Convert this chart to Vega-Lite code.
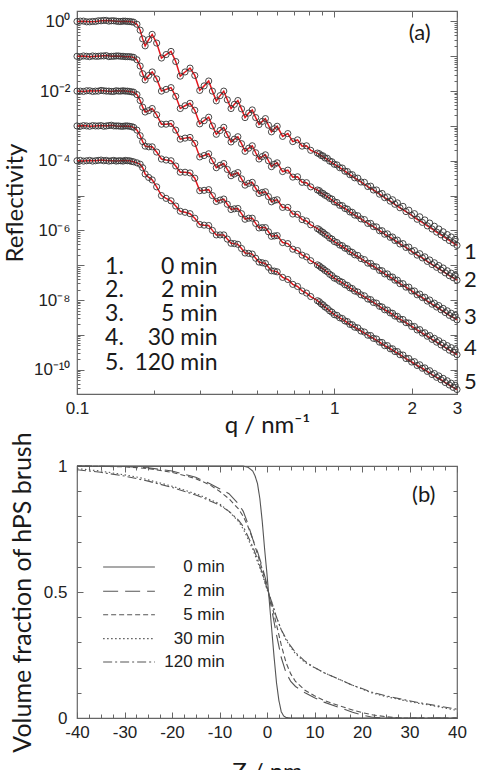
{
  "$schema": "https://vega.github.io/schema/vega-lite/v6.json",
  "padding": {"left": 2, "top": 9, "right": 0, "bottom": 0},
  "bounds": "flush",
  "spacing": 72,
  "config": {
    "view": {"stroke": "#666", "strokeWidth": 1.2},
    "axis": {"labelFlush": false, "labelOverlap": false, "domain": false, "grid": false, "tickColor": "#666", "tickWidth": 1, "labelFont": "Liberation Sans", "labelFontSize": 17, "labelColor": "#222", "titleFont": "Lato", "titleFontSize": 24, "titleFontWeight": "normal", "titleColor": "#1a1a1a"}
  },
  "datasets": {
    "refl": [
      {"q":0.100,"c1":0,"c2":-1.00,"c3":-2.00,"c4":-3.00,"c5":-4.00},
      {"q":0.106,"c1":0.01,"c2":-0.99,"c3":-2.01,"c4":-2.99,"c5":-4.01},
      {"q":0.112,"c1":-0.01,"c2":-1.01,"c3":-1.99,"c4":-3.01,"c5":-3.99},
      {"q":0.118,"c1":0,"c2":-1.00,"c3":-2.00,"c4":-3.00,"c5":-4.00},
      {"q":0.124,"c1":0.02,"c2":-0.99,"c3":-1.98,"c4":-2.99,"c5":-3.98},
      {"q":0.130,"c1":0.03,"c2":-0.98,"c3":-2.00,"c4":-3.00,"c5":-3.99},
      {"q":0.136,"c1":0.02,"c2":-1.00,"c3":-2.01,"c4":-2.98,"c5":-4.00},
      {"q":0.142,"c1":0.01,"c2":-0.99,"c3":-1.99,"c4":-3.00,"c5":-4.01},
      {"q":0.148,"c1":0,"c2":-1.00,"c3":-2.00,"c4":-3.01,"c5":-4.00},
      {"q":0.154,"c1":0.01,"c2":-1.01,"c3":-2.00,"c4":-3.00,"c5":-3.99},
      {"q":0.160,"c1":0,"c2":-1.01,"c3":-2.01,"c4":-3.01,"c5":-4.00},
      {"q":0.166,"c1":-0.02,"c2":-1.03,"c3":-2.03,"c4":-3.04,"c5":-4.03},
      {"q":0.171,"c1":-0.08,"c2":-1.10,"c3":-2.10,"c4":-3.12,"c5":-4.06},
      {"q":0.176,"c1":-0.25,"c2":-1.28,"c3":-2.27,"c4":-3.28,"c5":-4.10},
      {"q":0.180,"c1":-0.50,"c2":-1.50,"c3":-2.46,"c4":-3.45,"c5":-4.20},
      {"q":0.184,"c1":-0.70,"c2":-1.68,"c3":-2.60,"c4":-3.58,"c5":-4.38},
      {"q":0.190,"c1":-0.52,"c2":-1.55,"c3":-2.56,"c4":-3.60,"c5":-4.48},
      {"q":0.196,"c1":-0.37,"c2":-1.45,"c3":-2.50,"c4":-3.60,"c5":-4.55},
      {"q":0.204,"c1":-0.62,"c2":-1.65,"c3":-2.68,"c4":-3.75,"c5":-4.75},
      {"q":0.213,"c1":-1.05,"c2":-2.00,"c3":-2.95,"c4":-3.95,"c5":-5.00},
      {"q":0.222,"c1":-0.95,"c2":-1.95,"c3":-2.95,"c4":-3.98,"c5":-5.08},
      {"q":0.232,"c1":-0.86,"c2":-1.90,"c3":-2.93,"c4":-4.00,"c5":-5.15},
      {"q":0.242,"c1":-1.15,"c2":-2.15,"c3":-3.12,"c4":-4.15,"c5":-5.30},
      {"q":0.252,"c1":-1.57,"c2":-2.50,"c3":-3.38,"c4":-4.33,"c5":-5.45},
      {"q":0.263,"c1":-1.45,"c2":-2.42,"c3":-3.35,"c4":-4.33,"c5":-5.48},
      {"q":0.275,"c1":-1.34,"c2":-2.35,"c3":-3.33,"c4":-4.35,"c5":-5.52},
      {"q":0.287,"c1":-1.55,"c2":-2.55,"c3":-3.50,"c4":-4.50,"c5":-5.65},
      {"q":0.300,"c1":-1.98,"c2":-2.94,"c3":-3.89,"c4":-4.86,"c5":-5.83},
      {"q":0.312,"c1":-1.85,"c2":-2.85,"c3":-3.85,"c4":-4.85,"c5":-5.85},
      {"q":0.325,"c1":-1.71,"c2":-2.75,"c3":-3.80,"c4":-4.83,"c5":-5.86},
      {"q":0.336,"c1":-2.00,"c2":-3.00,"c3":-4.00,"c4":-5.00,"c5":-6.00},
      {"q":0.348,"c1":-2.28,"c2":-3.24,"c3":-4.20,"c4":-5.17,"c5":-6.13},
      {"q":0.360,"c1":-2.13,"c2":-3.13,"c3":-4.13,"c4":-5.13,"c5":-6.13},
      {"q":0.372,"c1":-2.00,"c2":-3.04,"c3":-4.08,"c4":-5.10,"c5":-6.13},
      {"q":0.384,"c1":-2.25,"c2":-3.25,"c3":-4.25,"c4":-5.25,"c5":-6.25},
      {"q":0.397,"c1":-2.50,"c2":-3.46,"c3":-4.43,"c4":-5.40,"c5":-6.37},
      {"q":0.409,"c1":-2.38,"c2":-3.38,"c3":-4.38,"c4":-5.38,"c5":-6.38},
      {"q":0.422,"c1":-2.27,"c2":-3.31,"c3":-4.34,"c4":-5.37,"c5":-6.40},
      {"q":0.436,"c1":-2.51,"c2":-3.51,"c3":-4.52,"c4":-5.52,"c5":-6.52},
      {"q":0.450,"c1":-2.76,"c2":-3.73,"c3":-4.70,"c4":-5.68,"c5":-6.65},
      {"q":0.465,"c1":-2.63,"c2":-3.64,"c3":-4.65,"c4":-5.65,"c5":-6.66},
      {"q":0.480,"c1":-2.54,"c2":-3.57,"c3":-4.62,"c4":-5.65,"c5":-6.68},
      {"q":0.495,"c1":-2.76,"c2":-3.77,"c3":-4.79,"c4":-5.80,"c5":-6.80},
      {"q":0.510,"c1":-2.96,"c2":-3.95,"c3":-4.94,"c4":-5.93,"c5":-6.91},
      {"q":0.525,"c1":-2.87,"c2":-3.88,"c3":-4.91,"c4":-5.92,"c5":-6.93},
      {"q":0.540,"c1":-2.79,"c2":-3.83,"c3":-4.89,"c4":-5.92,"c5":-6.95},
      {"q":0.555,"c1":-2.98,"c2":-4.00,"c3":-5.03,"c4":-6.04,"c5":-7.06},
      {"q":0.570,"c1":-3.17,"c2":-4.17,"c3":-5.18,"c4":-6.17,"c5":-7.16},
      {"q":0.585,"c1":-3.08,"c2":-4.10,"c3":-5.14,"c4":-6.16,"c5":-7.17},
      {"q":0.600,"c1":-3.01,"c2":-4.06,"c3":-5.12,"c4":-6.15,"c5":-7.19},
      {"q":0.630,"c1":-3.30,"c2":-4.31,"c3":-5.34,"c4":-6.35,"c5":-7.35},
      {"q":0.660,"c1":-3.22,"c2":-4.27,"c3":-5.34,"c4":-6.38,"c5":-7.41},
      {"q":0.690,"c1":-3.45,"c2":-4.47,"c3":-5.53,"c4":-6.54,"c5":-7.55},
      {"q":0.720,"c1":-3.40,"c2":-4.46,"c3":-5.54,"c4":-6.58,"c5":-7.61},
      {"q":0.750,"c1":-3.58,"c2":-4.62,"c3":-5.69,"c4":-6.71,"c5":-7.74},
      {"q":0.780,"c1":-3.57,"c2":-4.63,"c3":-5.73,"c4":-6.76,"c5":-7.80},
      {"q":0.810,"c1":-3.70,"c2":-4.75,"c3":-5.84,"c4":-6.87,"c5":-7.90},
      {"q":0.86,"c1":-3.78,"c2":-4.84,"c3":-5.95,"c4":-6.99,"c5":-8.02},
      {"q":0.89,"c1":-3.85,"c2":-4.92,"c3":-6.03,"c4":-7.07,"c5":-8.11},
      {"q":0.92,"c1":-3.92,"c2":-4.99,"c3":-6.11,"c4":-7.15,"c5":-8.20},
      {"q":0.96,"c1":-4.01,"c2":-5.08,"c3":-6.22,"c4":-7.26,"c5":-8.31},
      {"q":1.00,"c1":-4.10,"c2":-5.18,"c3":-6.32,"c4":-7.37,"c5":-8.42},
      {"q":1.05,"c1":-4.20,"c2":-5.28,"c3":-6.42,"c4":-7.46,"c5":-8.51},
      {"q":1.10,"c1":-4.30,"c2":-5.37,"c3":-6.51,"c4":-7.56,"c5":-8.60},
      {"q":1.15,"c1":-4.40,"c2":-5.47,"c3":-6.61,"c4":-7.65,"c5":-8.70},
      {"q":1.20,"c1":-4.49,"c2":-5.56,"c3":-6.70,"c4":-7.74,"c5":-8.78},
      {"q":1.27,"c1":-4.61,"c2":-5.67,"c3":-6.81,"c4":-7.85,"c5":-8.89},
      {"q":1.35,"c1":-4.74,"c2":-5.80,"c3":-6.94,"c4":-7.97,"c5":-9.01},
      {"q":1.42,"c1":-4.84,"c2":-5.89,"c3":-7.03,"c4":-8.07,"c5":-9.10},
      {"q":1.50,"c1":-4.96,"c2":-6.01,"c3":-7.15,"c4":-8.18,"c5":-9.21},
      {"q":1.57,"c1":-5.06,"c2":-6.11,"c3":-7.25,"c4":-8.28,"c5":-9.31},
      {"q":1.65,"c1":-5.16,"c2":-6.20,"c3":-7.34,"c4":-8.37,"c5":-9.40},
      {"q":1.72,"c1":-5.25,"c2":-6.29,"c3":-7.43,"c4":-8.46,"c5":-9.48},
      {"q":1.80,"c1":-5.35,"c2":-6.39,"c3":-7.53,"c4":-8.55,"c5":-9.57},
      {"q":1.90,"c1":-5.46,"c2":-6.49,"c3":-7.63,"c4":-8.65,"c5":-9.68},
      {"q":2.00,"c1":-5.57,"c2":-6.60,"c3":-7.74,"c4":-8.76,"c5":-9.78},
      {"q":2.10,"c1":-5.68,"c2":-6.71,"c3":-7.85,"c4":-8.86,"c5":-9.88},
      {"q":2.20,"c1":-5.77,"c2":-6.79,"c3":-7.93,"c4":-8.95,"c5":-9.96},
      {"q":2.30,"c1":-5.87,"c2":-6.89,"c3":-8.03,"c4":-9.04,"c5":-10.05},
      {"q":2.40,"c1":-5.96,"c2":-6.98,"c3":-8.12,"c4":-9.13,"c5":-10.14},
      {"q":2.50,"c1":-6.05,"c2":-7.06,"c3":-8.20,"c4":-9.21,"c5":-10.22},
      {"q":2.60,"c1":-6.13,"c2":-7.14,"c3":-8.28,"c4":-9.29,"c5":-10.29},
      {"q":2.70,"c1":-6.21,"c2":-7.22,"c3":-8.36,"c4":-9.36,"c5":-10.37},
      {"q":2.80,"c1":-6.29,"c2":-7.30,"c3":-8.44,"c4":-9.44,"c5":-10.44},
      {"q":2.90,"c1":-6.36,"c2":-7.36,"c3":-8.50,"c4":-9.50,"c5":-10.51},
      {"q":3.00,"c1":-6.43,"c2":-7.43,"c3":-8.57,"c4":-9.57,"c5":-10.57},
      {"e":1,"q":0.103,"c1":0.01,"c2":-1.01,"c3":-2.00,"c4":-3.01,"c5":-3.99},
      {"e":1,"q":0.109,"c1":-0.01,"c2":-1.00,"c3":-1.99,"c4":-3.00,"c5":-4.00},
      {"e":1,"q":0.115,"c1":0.00,"c2":-0.99,"c3":-2.01,"c4":-2.99,"c5":-4.01},
      {"e":1,"q":0.121,"c1":0.02,"c2":-1.00,"c3":-2.00,"c4":-3.00,"c5":-3.99},
      {"e":1,"q":0.127,"c1":0.03,"c2":-0.99,"c3":-1.99,"c4":-3.01,"c5":-4.00},
      {"e":1,"q":0.133,"c1":0.01,"c2":-1.01,"c3":-2.00,"c4":-2.99,"c5":-4.01},
      {"e":1,"q":0.139,"c1":0.02,"c2":-1.00,"c3":-2.01,"c4":-3.00,"c5":-3.99},
      {"e":1,"q":0.145,"c1":0.00,"c2":-0.99,"c3":-2.00,"c4":-3.00,"c5":-4.00},
      {"e":1,"q":0.151,"c1":0.01,"c2":-1.00,"c3":-1.99,"c4":-3.01,"c5":-4.01},
      {"e":1,"q":0.157,"c1":0.00,"c2":-1.01,"c3":-2.00,"c4":-3.00,"c5":-4.00},
      {"e":1,"q":0.163,"c1":-0.01,"c2":-1.02,"c3":-2.02,"c4":-3.02,"c5":-4.02},
      {"e":1,"q":0.875,"c1":-3.80,"c2":-4.86,"c3":-5.98,"c4":-7.02,"c5":-8.05},
      {"e":1,"q":0.905,"c1":-3.86,"c2":-4.94,"c3":-6.06,"c4":-7.10,"c5":-8.14},
      {"e":1,"q":0.94,"c1":-3.93,"c2":-5.02,"c3":-6.15,"c4":-7.19,"c5":-8.24},
      {"e":1,"q":0.98,"c1":-4.03,"c2":-5.10,"c3":-6.25,"c4":-7.30,"c5":-8.35},
      {"e":1,"q":1.025,"c1":-4.12,"c2":-5.20,"c3":-6.35,"c4":-7.40,"c5":-8.44},
      {"e":1,"q":1.075,"c1":-4.21,"c2":-5.29,"c3":-6.44,"c4":-7.49,"c5":-8.53},
      {"e":1,"q":1.125,"c1":-4.31,"c2":-5.39,"c3":-6.53,"c4":-7.58,"c5":-8.62},
      {"e":1,"q":1.175,"c1":-4.40,"c2":-5.48,"c3":-6.63,"c4":-7.67,"c5":-8.71},
      {"e":1,"q":1.235,"c1":-4.50,"c2":-5.58,"c3":-6.72,"c4":-7.77,"c5":-8.80},
      {"e":1,"q":1.31,"c1":-4.62,"c2":-5.69,"c3":-6.84,"c4":-7.88,"c5":-8.92},
      {"e":1,"q":1.385,"c1":-4.73,"c2":-5.80,"c3":-6.95,"c4":-7.99,"c5":-9.02},
      {"e":1,"q":1.46,"c1":-4.84,"c2":-5.90,"c3":-7.05,"c4":-8.09,"c5":-9.12},
      {"e":1,"q":1.535,"c1":-4.94,"c2":-6.01,"c3":-7.16,"c4":-8.20,"c5":-9.22},
      {"e":1,"q":1.61,"c1":-5.04,"c2":-6.10,"c3":-7.25,"c4":-8.29,"c5":-9.31},
      {"e":1,"q":1.685,"c1":-5.12,"c2":-6.19,"c3":-7.34,"c4":-8.38,"c5":-9.40},
      {"e":1,"q":1.76,"c1":-5.21,"c2":-6.28,"c3":-7.43,"c4":-8.47,"c5":-9.48},
      {"e":1,"q":1.85,"c1":-5.31,"c2":-6.38,"c3":-7.53,"c4":-8.56,"c5":-9.58},
      {"e":1,"q":1.95,"c1":-5.42,"c2":-6.48,"c3":-7.63,"c4":-8.66,"c5":-9.68},
      {"e":1,"q":2.05,"c1":-5.52,"c2":-6.58,"c3":-7.74,"c4":-8.76,"c5":-9.77},
      {"e":1,"q":2.15,"c1":-5.61,"c2":-6.67,"c3":-7.83,"c4":-8.85,"c5":-9.86},
      {"e":1,"q":2.25,"c1":-5.70,"c2":-6.76,"c3":-7.92,"c4":-8.94,"c5":-9.95},
      {"e":1,"q":2.35,"c1":-5.79,"c2":-6.85,"c3":-8.00,"c4":-9.02,"c5":-10.03},
      {"e":1,"q":2.45,"c1":-5.88,"c2":-6.93,"c3":-8.09,"c4":-9.10,"c5":-10.11},
      {"e":1,"q":2.55,"c1":-5.96,"c2":-7.01,"c3":-8.16,"c4":-9.17,"c5":-10.18},
      {"e":1,"q":2.65,"c1":-6.04,"c2":-7.08,"c3":-8.24,"c4":-9.24,"c5":-10.25},
      {"e":1,"q":2.75,"c1":-6.12,"c2":-7.16,"c3":-8.31,"c4":-9.31,"c5":-10.32},
      {"e":1,"q":2.85,"c1":-6.19,"c2":-7.23,"c3":-8.38,"c4":-9.37,"c5":-10.39},
      {"e":1,"q":2.95,"c1":-6.26,"c2":-7.29,"c3":-8.44,"c4":-9.43,"c5":-10.45}
    ],
    "prof": [
      {"t":"0 min","Z":-40,"phi":1},{"t":"0 min","Z":-10,"phi":1},{"t":"0 min","Z":-5,"phi":1},{"t":"0 min","Z":-4,"phi":0.995},{"t":"0 min","Z":-3,"phi":0.98},{"t":"0 min","Z":-2.5,"phi":0.96},{"t":"0 min","Z":-2,"phi":0.93},{"t":"0 min","Z":-1.5,"phi":0.87},{"t":"0 min","Z":-1,"phi":0.78},{"t":"0 min","Z":-0.5,"phi":0.67},{"t":"0 min","Z":0,"phi":0.57},{"t":"0 min","Z":0.5,"phi":0.46},{"t":"0 min","Z":1,"phi":0.35},{"t":"0 min","Z":1.5,"phi":0.24},{"t":"0 min","Z":2,"phi":0.14},{"t":"0 min","Z":2.5,"phi":0.07},{"t":"0 min","Z":3,"phi":0.025},{"t":"0 min","Z":3.5,"phi":0.008},{"t":"0 min","Z":4,"phi":0.002},{"t":"0 min","Z":5,"phi":0},{"t":"0 min","Z":40,"phi":0},
      {"t":"2 min","Z":-40,"phi":1},{"t":"2 min","Z":-30,"phi":0.998},{"t":"2 min","Z":-25,"phi":0.993},{"t":"2 min","Z":-20,"phi":0.98},{"t":"2 min","Z":-15,"phi":0.955},{"t":"2 min","Z":-12,"phi":0.93},{"t":"2 min","Z":-10,"phi":0.91},{"t":"2 min","Z":-8,"phi":0.89},{"t":"2 min","Z":-6,"phi":0.85},{"t":"2 min","Z":-5,"phi":0.82},{"t":"2 min","Z":-4,"phi":0.77},{"t":"2 min","Z":-3,"phi":0.71},{"t":"2 min","Z":-2,"phi":0.66},{"t":"2 min","Z":-1,"phi":0.6},{"t":"2 min","Z":0,"phi":0.53},{"t":"2 min","Z":1,"phi":0.43},{"t":"2 min","Z":2,"phi":0.33},{"t":"2 min","Z":3,"phi":0.24},{"t":"2 min","Z":4,"phi":0.18},{"t":"2 min","Z":5,"phi":0.145},{"t":"2 min","Z":6,"phi":0.125},{"t":"2 min","Z":8,"phi":0.1},{"t":"2 min","Z":10,"phi":0.08},{"t":"2 min","Z":12,"phi":0.063},{"t":"2 min","Z":15,"phi":0.043},{"t":"2 min","Z":18,"phi":0.023},{"t":"2 min","Z":20,"phi":0.012},{"t":"2 min","Z":22,"phi":0.004},{"t":"2 min","Z":24,"phi":0},{"t":"2 min","Z":40,"phi":0},
      {"t":"5 min","Z":-40,"phi":1},{"t":"5 min","Z":-30,"phi":0.997},{"t":"5 min","Z":-25,"phi":0.99},{"t":"5 min","Z":-20,"phi":0.975},{"t":"5 min","Z":-15,"phi":0.95},{"t":"5 min","Z":-12,"phi":0.925},{"t":"5 min","Z":-10,"phi":0.9},{"t":"5 min","Z":-8,"phi":0.87},{"t":"5 min","Z":-6,"phi":0.83},{"t":"5 min","Z":-5,"phi":0.8},{"t":"5 min","Z":-4,"phi":0.76},{"t":"5 min","Z":-3,"phi":0.71},{"t":"5 min","Z":-2,"phi":0.65},{"t":"5 min","Z":-1,"phi":0.59},{"t":"5 min","Z":0,"phi":0.52},{"t":"5 min","Z":1,"phi":0.45},{"t":"5 min","Z":2,"phi":0.37},{"t":"5 min","Z":3,"phi":0.29},{"t":"5 min","Z":4,"phi":0.22},{"t":"5 min","Z":5,"phi":0.175},{"t":"5 min","Z":6,"phi":0.145},{"t":"5 min","Z":8,"phi":0.11},{"t":"5 min","Z":10,"phi":0.088},{"t":"5 min","Z":12,"phi":0.07},{"t":"5 min","Z":15,"phi":0.05},{"t":"5 min","Z":18,"phi":0.032},{"t":"5 min","Z":20,"phi":0.022},{"t":"5 min","Z":22,"phi":0.013},{"t":"5 min","Z":25,"phi":0.005},{"t":"5 min","Z":28,"phi":0},{"t":"5 min","Z":40,"phi":0},
      {"t":"30 min","Z":-40,"phi":0.99},{"t":"30 min","Z":-35,"phi":0.98},{"t":"30 min","Z":-30,"phi":0.965},{"t":"30 min","Z":-27,"phi":0.955},{"t":"30 min","Z":-25,"phi":0.945},{"t":"30 min","Z":-20,"phi":0.92},{"t":"30 min","Z":-15,"phi":0.89},{"t":"30 min","Z":-13,"phi":0.875},{"t":"30 min","Z":-10,"phi":0.85},{"t":"30 min","Z":-8,"phi":0.82},{"t":"30 min","Z":-6,"phi":0.78},{"t":"30 min","Z":-5,"phi":0.75},{"t":"30 min","Z":-4,"phi":0.71},{"t":"30 min","Z":-3,"phi":0.67},{"t":"30 min","Z":-2,"phi":0.62},{"t":"30 min","Z":-1,"phi":0.57},{"t":"30 min","Z":0,"phi":0.51},{"t":"30 min","Z":1,"phi":0.46},{"t":"30 min","Z":2,"phi":0.4},{"t":"30 min","Z":3,"phi":0.35},{"t":"30 min","Z":4,"phi":0.31},{"t":"30 min","Z":5,"phi":0.28},{"t":"30 min","Z":6,"phi":0.255},{"t":"30 min","Z":8,"phi":0.22},{"t":"30 min","Z":10,"phi":0.2},{"t":"30 min","Z":12,"phi":0.18},{"t":"30 min","Z":15,"phi":0.155},{"t":"30 min","Z":18,"phi":0.13},{"t":"30 min","Z":20,"phi":0.115},{"t":"30 min","Z":22,"phi":0.1},{"t":"30 min","Z":25,"phi":0.085},{"t":"30 min","Z":29,"phi":0.069},{"t":"30 min","Z":32,"phi":0.058},{"t":"30 min","Z":36,"phi":0.045},{"t":"30 min","Z":40,"phi":0.03},
      {"t":"120 min","Z":-40,"phi":0.985},{"t":"120 min","Z":-35,"phi":0.975},{"t":"120 min","Z":-30,"phi":0.96},{"t":"120 min","Z":-25,"phi":0.94},{"t":"120 min","Z":-20,"phi":0.915},{"t":"120 min","Z":-15,"phi":0.885},{"t":"120 min","Z":-13,"phi":0.87},{"t":"120 min","Z":-10,"phi":0.845},{"t":"120 min","Z":-8,"phi":0.82},{"t":"120 min","Z":-6,"phi":0.785},{"t":"120 min","Z":-5,"phi":0.76},{"t":"120 min","Z":-4,"phi":0.72},{"t":"120 min","Z":-3,"phi":0.68},{"t":"120 min","Z":-2,"phi":0.63},{"t":"120 min","Z":-1,"phi":0.575},{"t":"120 min","Z":0,"phi":0.515},{"t":"120 min","Z":1,"phi":0.46},{"t":"120 min","Z":2,"phi":0.4},{"t":"120 min","Z":3,"phi":0.35},{"t":"120 min","Z":4,"phi":0.315},{"t":"120 min","Z":5,"phi":0.285},{"t":"120 min","Z":6,"phi":0.26},{"t":"120 min","Z":8,"phi":0.225},{"t":"120 min","Z":10,"phi":0.2},{"t":"120 min","Z":12,"phi":0.18},{"t":"120 min","Z":15,"phi":0.155},{"t":"120 min","Z":18,"phi":0.13},{"t":"120 min","Z":20,"phi":0.117},{"t":"120 min","Z":22,"phi":0.103},{"t":"120 min","Z":25,"phi":0.088},{"t":"120 min","Z":29,"phi":0.072},{"t":"120 min","Z":32,"phi":0.061},{"t":"120 min","Z":36,"phi":0.048},{"t":"120 min","Z":40,"phi":0.035}
    ],
    "legB": [
      {"t":"0 min","Z":-34.5,"phi":0.599},{"t":"0 min","Z":-23.6,"phi":0.599},
      {"t":"2 min","Z":-34.5,"phi":0.503},{"t":"2 min","Z":-23.6,"phi":0.503},
      {"t":"5 min","Z":-34.5,"phi":0.41},{"t":"5 min","Z":-23.6,"phi":0.41},
      {"t":"30 min","Z":-34.5,"phi":0.315},{"t":"30 min","Z":-23.6,"phi":0.315},
      {"t":"120 min","Z":-34.5,"phi":0.222},{"t":"120 min","Z":-23.6,"phi":0.222}
    ],
    "legBt": [
      {"t":"0 min","Z":-8.9,"phi":0.599},
      {"t":"2 min","Z":-8.9,"phi":0.503},
      {"t":"5 min","Z":-8.9,"phi":0.41},
      {"t":"30 min","Z":-8.9,"phi":0.315},
      {"t":"120 min","Z":-8.9,"phi":0.222}
    ],
    "legA": [
      {"q":0.1286,"q2":0.352,"y":-7.06,"n":"1.","t":"0 min"},
      {"q":0.1286,"q2":0.352,"y":-7.71,"n":"2.","t":"2 min"},
      {"q":0.1286,"q2":0.352,"y":-8.40,"n":"3.","t":"5 min"},
      {"q":0.1286,"q2":0.352,"y":-9.09,"n":"4.","t":"30 min"},
      {"q":0.1286,"q2":0.352,"y":-9.80,"n":"5.","t":"120 min"}
    ],
    "ends": [
      {"q":3,"y":-6.63,"n":"1"},
      {"q":3,"y":-7.43,"n":"2"},
      {"q":3,"y":-8.49,"n":"3"},
      {"q":3,"y":-9.37,"n":"4"},
      {"q":3,"y":-10.34,"n":"5"}
    ]
  },
  "vconcat": [
    {
      "width": 380,
      "height": 383,
      "layer": [
        {
          "data": {"name": "refl"},
          "transform": [{"filter": "!datum.e"}, {"fold": ["c1","c2","c3","c4","c5"], "as": ["curve","logR"]}],
          "mark": {"type": "line", "color": "#e3171d", "strokeWidth": 1.5},
          "encoding": {
            "x": {"field": "q", "type": "quantitative", "scale": {"type": "log", "domain": [0.1, 3], "nice": false},
              "axis": {"orient": "top", "labels": false, "title": null, "values": [0.1,0.2,0.3,0.4,0.5,0.6,0.7,0.8,0.9,1,2,3],
                "tickSize": {"condition": {"test": "datum.value == 0.1 || datum.value >= 1", "value": -6}, "value": -4}}},
            "y": {"field": "logR", "type": "quantitative", "scale": {"domain": [-10.699, 0.301], "nice": false, "zero": false},
              "axis": {"orient": "right", "labels": false, "title": null,
                "values": [-10.699,-10.523,-10.398,-10.301,-10.222,-10.155,-10.097,-10.046,-10,-9.699,-9.523,-9.398,-9.301,-9.222,-9.155,-9.097,-9.046,-9,-8.699,-8.523,-8.398,-8.301,-8.222,-8.155,-8.097,-8.046,-8,-7.699,-7.523,-7.398,-7.301,-7.222,-7.155,-7.097,-7.046,-7,-6.699,-6.523,-6.398,-6.301,-6.222,-6.155,-6.097,-6.046,-6,-5.699,-5.523,-5.398,-5.301,-5.222,-5.155,-5.097,-5.046,-5,-4.699,-4.523,-4.398,-4.301,-4.222,-4.155,-4.097,-4.046,-4,-3.699,-3.523,-3.398,-3.301,-3.222,-3.155,-3.097,-3.046,-3,-2.699,-2.523,-2.398,-2.301,-2.222,-2.155,-2.097,-2.046,-2,-1.699,-1.523,-1.398,-1.301,-1.222,-1.155,-1.097,-1.046,-1,-0.699,-0.523,-0.398,-0.301,-0.222,-0.155,-0.097,-0.046,0],
                "tickSize": {"condition": {"test": "datum.value == round(datum.value)", "value": -7}, "value": -3}}},
            "detail": {"field": "curve"}
          }
        },
        {
          "data": {"name": "refl"},
          "transform": [{"fold": ["c1","c2","c3","c4","c5"], "as": ["curve","logR"]}],
          "mark": {"type": "point", "shape": "circle", "filled": false, "size": 38, "stroke": "#333", "strokeWidth": 0.9, "opacity": 1},
          "encoding": {
            "x": {"field": "q", "type": "quantitative", "scale": {"type": "log", "domain": [0.1, 3], "nice": false},
              "axis": {"orient": "bottom", "title": "q / nm⁻¹", "titlePadding": -5, "labelPadding": 12, "values": [0.1,0.2,0.3,0.4,0.5,0.6,0.7,0.8,0.9,1,2,3],
                "labelExpr": "datum.value == 0.1 ? '0.1' : datum.value == 1 ? '1' : datum.value == 2 ? '2' : datum.value == 3 ? '3' : ''",
                "tickSize": {"condition": {"test": "datum.value == 0.1 || datum.value >= 1", "value": -6}, "value": -4}}},
            "y": {"field": "logR", "type": "quantitative", "scale": {"domain": [-10.699, 0.301], "nice": false, "zero": false},
              "axis": {"orient": "left", "title": "Reflectivity", "titlePadding": 6, "labelPadding": 14,
                "values": [-10.699,-10.523,-10.398,-10.301,-10.222,-10.155,-10.097,-10.046,-10,-9.699,-9.523,-9.398,-9.301,-9.222,-9.155,-9.097,-9.046,-9,-8.699,-8.523,-8.398,-8.301,-8.222,-8.155,-8.097,-8.046,-8,-7.699,-7.523,-7.398,-7.301,-7.222,-7.155,-7.097,-7.046,-7,-6.699,-6.523,-6.398,-6.301,-6.222,-6.155,-6.097,-6.046,-6,-5.699,-5.523,-5.398,-5.301,-5.222,-5.155,-5.097,-5.046,-5,-4.699,-4.523,-4.398,-4.301,-4.222,-4.155,-4.097,-4.046,-4,-3.699,-3.523,-3.398,-3.301,-3.222,-3.155,-3.097,-3.046,-3,-2.699,-2.523,-2.398,-2.301,-2.222,-2.155,-2.097,-2.046,-2,-1.699,-1.523,-1.398,-1.301,-1.222,-1.155,-1.097,-1.046,-1,-0.699,-0.523,-0.398,-0.301,-0.222,-0.155,-0.097,-0.046,0],
                "labelExpr": "datum.value == 0 ? '10⁰' : datum.value == -2 ? '10⁻²' : datum.value == -4 ? '10⁻⁴' : datum.value == -6 ? '10⁻⁶' : datum.value == -8 ? '10⁻⁸' : datum.value == -10 ? '10⁻¹⁰' : ''",
                "tickSize": {"condition": {"test": "datum.value == round(datum.value)", "value": -7}, "value": -3}}},
            "detail": {"field": "curve"}
          }
        },
        {
          "data": {"name": "legA"},
          "mark": {"type": "text", "align": "left", "baseline": "middle", "font": "Lato", "fontSize": 23, "color": "#1a1a1a"},
          "encoding": {
            "x": {"field": "q", "type": "quantitative", "axis": null},
            "y": {"field": "y", "type": "quantitative", "axis": null},
            "text": {"field": "n"}
          }
        },
        {
          "data": {"name": "legA"},
          "mark": {"type": "text", "align": "right", "baseline": "middle", "font": "Lato", "fontSize": 23, "color": "#1a1a1a"},
          "encoding": {
            "x": {"field": "q2", "type": "quantitative", "axis": null},
            "y": {"field": "y", "type": "quantitative", "axis": null},
            "text": {"field": "t"}
          }
        },
        {
          "data": {"name": "ends"},
          "mark": {"type": "text", "align": "left", "baseline": "middle", "dx": 7, "font": "Lato", "fontSize": 22, "color": "#1a1a1a"},
          "encoding": {
            "x": {"field": "q", "type": "quantitative", "axis": null},
            "y": {"field": "y", "type": "quantitative", "axis": null},
            "text": {"field": "n"}
          }
        },
        {
          "data": {"values": [{"q": 2.15, "y": -0.34, "t": "(a)"}]},
          "mark": {"type": "text", "align": "center", "baseline": "middle", "font": "Lato", "fontSize": 22, "color": "#1a1a1a"},
          "encoding": {
            "x": {"field": "q", "type": "quantitative", "axis": null},
            "y": {"field": "y", "type": "quantitative", "axis": null},
            "text": {"field": "t"}
          }
        }
      ],
      "resolve": {"axis": {"x": "independent", "y": "independent"}}
    },
    {
      "width": 380,
      "height": 252,
      "layer": [
        {
          "data": {"name": "prof"},
          "mark": {"type": "line", "color": "#555", "strokeWidth": 1.1},
          "encoding": {
            "x": {"field": "Z", "type": "quantitative", "scale": {"domain": [-40, 40], "nice": false},
              "axis": {"orient": "bottom", "title": "Z / nm", "titlePadding": 18, "labelPadding": 12,
                "values": [-40,-37.5,-35,-32.5,-30,-27.5,-25,-22.5,-20,-17.5,-15,-12.5,-10,-7.5,-5,-2.5,0,2.5,5,7.5,10,12.5,15,17.5,20,22.5,25,27.5,30,32.5,35,37.5,40],
                "labelExpr": "datum.value % 10 == 0 ? toString(datum.value) : ''",
                "tickSize": {"condition": {"test": "datum.value % 10 == 0", "value": -6}, "value": -4}}},
            "y": {"field": "phi", "type": "quantitative", "scale": {"domain": [0, 1], "nice": false},
              "axis": {"orient": "left", "title": "Volume fraction of hPS brush", "titleFontSize": 25, "titlePadding": 8, "labelPadding": 16,
                "values": [0,0.1,0.2,0.3,0.4,0.5,0.6,0.7,0.8,0.9,1],
                "labelExpr": "datum.value == 0 ? '0' : datum.value == 0.5 ? '0.5' : datum.value == 1 ? '1' : ''",
                "tickSize": {"condition": {"test": "datum.value == 0 || datum.value == 0.5 || datum.value == 1", "value": -6}, "value": -4}}},
            "strokeDash": {"field": "t", "type": "nominal",
              "scale": {"domain": ["0 min","2 min","5 min","30 min","120 min"], "range": [[1,0],[15,7],[5,3],[1.5,2.5],[9,3,2,3]]},
              "legend": null}
          }
        },
        {
          "data": {"name": "prof"},
          "mark": {"type": "line", "opacity": 0},
          "encoding": {
            "x": {"field": "Z", "type": "quantitative", "scale": {"domain": [-40, 40], "nice": false},
              "axis": {"orient": "top", "labels": false, "title": null,
                "values": [-40,-37.5,-35,-32.5,-30,-27.5,-25,-22.5,-20,-17.5,-15,-12.5,-10,-7.5,-5,-2.5,0,2.5,5,7.5,10,12.5,15,17.5,20,22.5,25,27.5,30,32.5,35,37.5,40],
                "tickSize": {"condition": {"test": "datum.value % 10 == 0", "value": -6}, "value": -4}}},
            "y": {"field": "phi", "type": "quantitative", "scale": {"domain": [0, 1], "nice": false},
              "axis": {"orient": "right", "labels": false, "title": null,
                "values": [0,0.1,0.2,0.3,0.4,0.5,0.6,0.7,0.8,0.9,1],
                "tickSize": {"condition": {"test": "datum.value == 0 || datum.value == 0.5 || datum.value == 1", "value": -6}, "value": -4}}},
            "detail": {"field": "t"}
          }
        },
        {
          "data": {"name": "legB"},
          "mark": {"type": "line", "color": "#555", "strokeWidth": 1.1},
          "encoding": {
            "x": {"field": "Z", "type": "quantitative", "axis": null},
            "y": {"field": "phi", "type": "quantitative", "axis": null},
            "strokeDash": {"field": "t", "type": "nominal", "legend": null}
          }
        },
        {
          "data": {"name": "legBt"},
          "mark": {"type": "text", "align": "right", "baseline": "middle", "font": "Liberation Sans", "fontSize": 17, "color": "#222"},
          "encoding": {
            "x": {"field": "Z", "type": "quantitative", "axis": null},
            "y": {"field": "phi", "type": "quantitative", "axis": null},
            "text": {"field": "t"}
          }
        },
        {
          "data": {"values": [{"Z": 33, "phi": 0.885, "t": "(b)"}]},
          "mark": {"type": "text", "align": "center", "baseline": "middle", "font": "Lato", "fontSize": 22, "color": "#1a1a1a"},
          "encoding": {
            "x": {"field": "Z", "type": "quantitative", "axis": null},
            "y": {"field": "phi", "type": "quantitative", "axis": null},
            "text": {"field": "t"}
          }
        }
      ],
      "resolve": {"axis": {"x": "independent", "y": "independent"}}
    }
  ]
}
